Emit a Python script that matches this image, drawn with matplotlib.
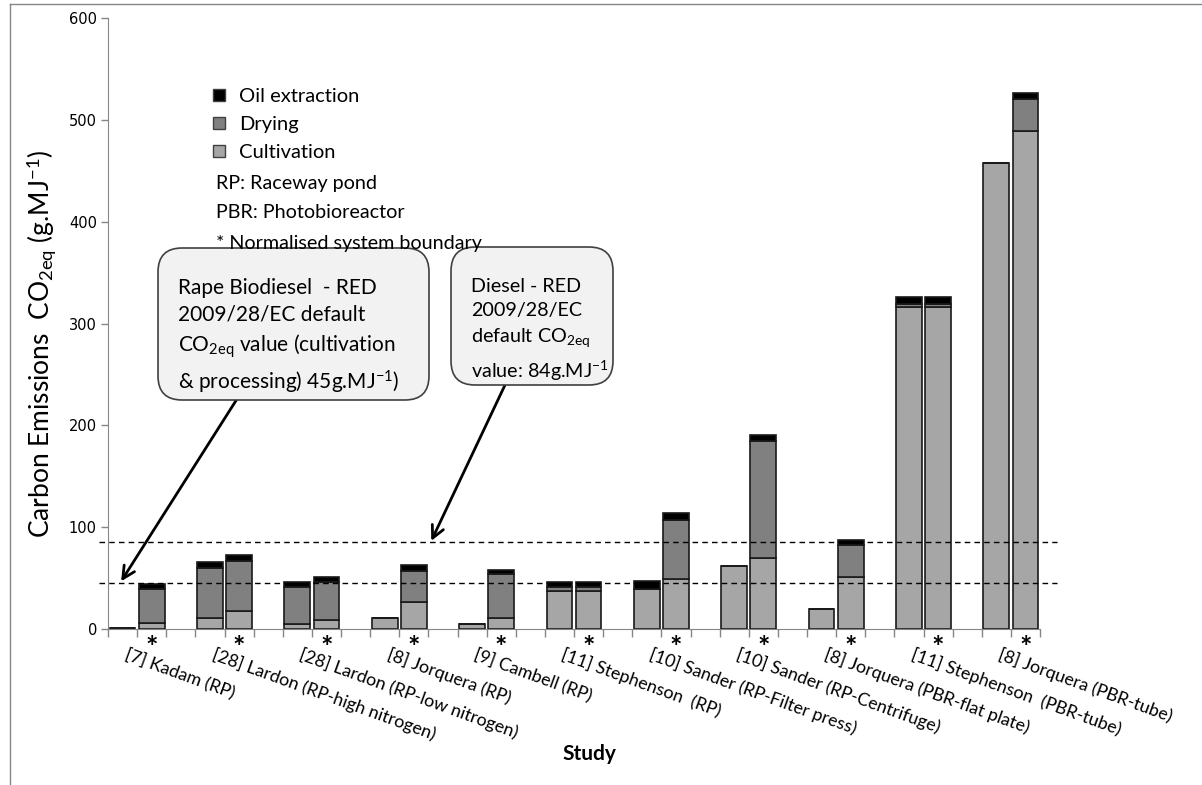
import matplotlib
matplotlib.use("Agg")
import matplotlib.pyplot as plt
from matplotlib.patches import Patch, FancyBboxPatch
from matplotlib.lines import Line2D
from matplotlib.transforms import IdentityTransform
import numpy as np

plt.rcParams["font.family"] = ["Lato", "DejaVu Sans"]
plt.rcParams["mathtext.fontset"] = "custom"
plt.rcParams["mathtext.rm"] = "Lato"
plt.rcParams["mathtext.it"] = "Lato:italic"

studies = [
    "[7] Kadam (RP)",
    "[28] Lardon (RP-high nitrogen)",
    "[28] Lardon (RP-low nitrogen)",
    "[8] Jorquera (RP)",
    "[9] Cambell (RP)",
    "[11] Stephenson  (RP)",
    "[10] Sander (RP-Filter press)",
    "[10] Sander (RP-Centrifuge)",
    "[8] Jorquera (PBR-flat plate)",
    "[11] Stephenson  (PBR-tube)",
    "[8] Jorquera (PBR-tube)",
]

# as reported by each study
cult_rep = [1.0, 10.5, 4.9, 10.8, 4.9, 37.0, 39.3, 61.6, 19.3, 316.0, 458.0]
dry_rep = [0.0, 49.4, 36.7, 0.0, 0.0, 3.9, 0.0, 0.0, 0.0, 3.3, 0.0]
oil_rep = [0.0, 5.6, 4.2, 0.0, 0.0, 4.9, 8.2, 0.0, 0.0, 6.5, 0.0]

# normalised system boundary (*)
cult_norm = [5.9, 18.0, 9.2, 26.2, 10.8, 37.0, 49.4, 70.1, 50.8, 316.0, 489.0]
dry_norm = [33.4, 49.1, 37.3, 31.1, 43.2, 3.9, 57.7, 114.9, 31.7, 3.3, 31.6]
oil_norm = [4.9, 5.6, 4.3, 5.6, 4.3, 4.9, 6.5, 5.6, 4.9, 6.5, 6.2]

rape_biodiesel_ref = 44.8
diesel_ref = 85.5

c_cult = "#A6A6A6"
c_dry = "#808080"
c_oil = "#000000"
edge = "#1a1a1a"

fig = plt.figure(figsize=(12.02, 7.85), dpi=100)
ax = fig.add_axes([108 / 1202, 1 - 629 / 785, 932 / 1202, 611 / 785])

n = len(studies)
x_rep = np.arange(n) * 3 + 0.5
x_norm = np.arange(n) * 3 + 1.5
w = 0.88

for xs, c, d, o in [(x_rep, cult_rep, dry_rep, oil_rep), (x_norm, cult_norm, dry_norm, oil_norm)]:
    c = np.array(c)
    d = np.array(d)
    o = np.array(o)
    ax.bar(xs, c, w, color=c_cult, edgecolor=edge, linewidth=1.2)
    ax.bar(xs, d, w, bottom=c, color=c_dry, edgecolor=edge, linewidth=1.2)
    ax.bar(xs, o, w, bottom=c + d, color=c_oil, edgecolor=edge, linewidth=1.2)

ax.set_xlim(0, 3 * n - 1)
ax.set_ylim(0, 600)
ax.set_yticks(np.arange(0, 601, 100))
ax.set_xticks(np.arange(0, 3 * n))
ax.set_xticklabels([])
for lab in ax.get_yticklabels():
    lab.set_family("DejaVu Sans")
ax.tick_params(axis="y", length=5, width=1, color="#868686", labelsize=10.5, pad=3)
ax.tick_params(axis="x", length=6, width=1, color="#868686")
for s in ["top", "right"]:
    ax.spines[s].set_visible(False)
for s in ["left", "bottom"]:
    ax.spines[s].set_color("#868686")

# reference lines
ax.hlines([diesel_ref, rape_biodiesel_ref], -0.3, 3 * n - 0.4, colors="black",
          linestyles=(0, (4, 3)), linewidth=1, clip_on=False)

# study labels and stars
for i, name in enumerate(studies):
    ax.annotate("*", xy=(x_norm[i], 0), xycoords=("data", "axes fraction"),
                xytext=(0, -4), textcoords="offset points", ha="center", va="top",
                fontsize=21, fontweight="bold")
    ax.annotate(name, xy=(x_rep[i] + 0.2, 0), xycoords=("data", "axes fraction"),
                xytext=(0, -12), textcoords="offset points", ha="left", va="top",
                rotation=-20, rotation_mode="anchor", fontsize=12.8)

ax.set_ylabel("Carbon Emissions  CO$_{\\mathrm{2eq}}$ (g.MJ$^{\\mathrm{-1}}$)", fontsize=19)
ax.yaxis.set_label_coords(-0.054, 0.466)
ax.set_xlabel("Study", fontsize=15, fontweight="bold")
ax.xaxis.set_label_coords(0.517, -0.188)

# legend
handles = [Patch(facecolor=c_oil, edgecolor="#404040", label="Oil extraction"),
           Patch(facecolor=c_dry, edgecolor="#404040", label="Drying"),
           Patch(facecolor=c_cult, edgecolor="#404040", label="Cultivation")]
ax.legend(handles=handles, loc="upper left", bbox_to_anchor=(213 / 1202, 1 - 88 / 785),
          bbox_transform=fig.transFigure, frameon=False, fontsize=14.5,
          handlelength=0.6, handleheight=0.6, handletextpad=0.7,
          labelspacing=0.55, borderpad=0, borderaxespad=0)
notes = ["RP: Raceway pond", "PBR: Photobioreactor", "* Normalised system boundary"]
for k, t in enumerate(notes):
    fig.text(216 / 1202, 1 - (183 + 30 * k) / 785, t, fontsize=14.2, va="center", ha="left")

# callout boxes
px = IdentityTransform()
for (x0, y0, x1, y1) in [(158, 248, 429, 400), (451, 247, 613, 385)]:
    box = FancyBboxPatch((x0, 785 - y1), x1 - x0, y1 - y0,
                         boxstyle="round,pad=0,rounding_size=24",
                         facecolor="#F2F2F2", edgecolor="#404040", linewidth=1.2,
                         transform=px)
    fig.patches.append(box)

fig.text(178 / 1202, 1 - 278 / 785,
         "Rape Biodiesel  - RED\n2009/28/EC default\nCO$_{\\mathrm{2eq}}$ value (cultivation\n"
         "& processing) 45g.MJ$^{\\mathrm{-1}}$)",
         fontsize=15, va="top", ha="left", linespacing=1.42)
fig.text(471 / 1202, 1 - 278 / 785,
         "Diesel - RED\n2009/28/EC\ndefault CO$_{\\mathrm{2eq}}$\nvalue: 84g.MJ$^{\\mathrm{-1}}$",
         fontsize=14.2, va="top", ha="left", linespacing=1.48)

arrow = dict(arrowstyle="->", lw=2, color="black", shrinkA=0, shrinkB=0, mutation_scale=22)
ax.annotate("", xy=(0.45, rape_biodiesel_ref + 2), xycoords="data",
            xytext=(237 / 1202, 1 - 399 / 785), textcoords="figure fraction",
            arrowprops=arrow, annotation_clip=False)
ax.annotate("", xy=(11.1, diesel_ref + 1), xycoords="data",
            xytext=(505 / 1202, 1 - 385 / 785), textcoords="figure fraction",
            arrowprops=arrow, annotation_clip=False)

# outer chart border (left and top edges visible)
fig.lines.append(Line2D([10 / 1202, 10 / 1202], [0, 1 - 4 / 785], transform=fig.transFigure,
                        color="#868686", lw=1))
fig.lines.append(Line2D([10 / 1202, 1], [1 - 4 / 785, 1 - 4 / 785], transform=fig.transFigure,
                        color="#868686", lw=1))

fig.savefig("out.png", dpi=100)
